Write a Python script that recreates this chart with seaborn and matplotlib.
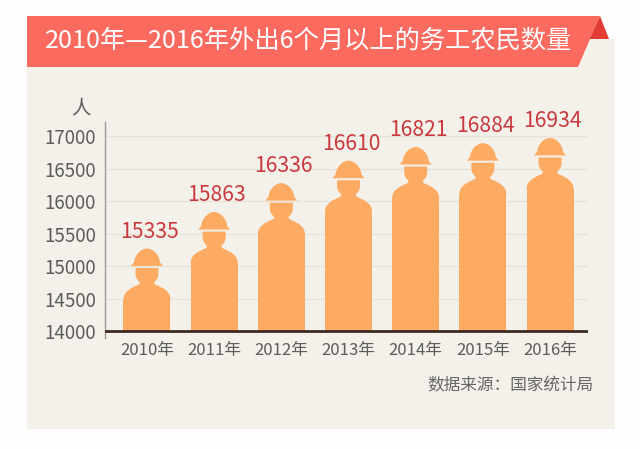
import matplotlib
matplotlib.use("Agg")
import matplotlib.pyplot as plt
import pandas as pd
import seaborn as sns
from matplotlib.patches import PathPatch, Polygon, Rectangle
from matplotlib.path import Path

# Data
years = ["2010年", "2011年", "2012年", "2013年", "2014年", "2015年", "2016年"]
workers = [15335, 15863, 16336, 16610, 16821, 16884, 16934]
# the figures are not drawn quite to their printed value, so read those too
drawn_tops = [15270, 15830, 16275, 16620, 16830, 16890, 16970]
y_ticks = [14000, 14500, 15000, 15500, 16000, 16500, 17000]

title = "2010年—2016年外出6个月以上的务工农民数量"
source = "数据来源：国家统计局"

PANEL = "#f4f1ea"
BANNER = "#fb6a5e"
FOLD = "#e23d33"
ORANGE = "#fdab63"
RED = "#c9393d"
GREY = "#5c5c5c"

# scale of the main axes: pixels of the picture per data unit
PX_X = 67.17
PX_Y = 0.065
SHOULDER = 51  # px from top of hat to where the bar's straight side starts

sns.set_theme(style="white")
plt.rcParams["font.family"] = ["Noto Sans CJK SC", "DejaVu Sans"]

df = pd.DataFrame({"year": years, "top": drawn_tops})
df["height"] = df["top"] - 14000 - SHOULDER / PX_Y

fig = plt.figure(figsize=(6.4, 4.49), dpi=100, facecolor="#fefefe")

# background layer in picture pixels
bg = fig.add_axes([0, 0, 1, 1], zorder=0)
bg.set_xlim(0, 640)
bg.set_ylim(449, 0)
bg.axis("off")
bg.add_patch(Rectangle((27, 39), 588, 390, color=PANEL, lw=0))
bg.add_patch(Polygon([(600, 16), (609, 39), (589, 39)], color=FOLD, lw=0))
bg.add_patch(Polygon([(27, 16), (600, 16), (578, 67), (27, 67)], color=BANNER, lw=0))
bg.text(309, 41, title, color="white", fontsize=18.2, ha="center", va="center")
bg.text(81, 108, "人", color=GREY, fontsize=14, ha="center", va="center")
bg.text(510, 386, source, color="#666666", fontsize=12, ha="center", va="center")

# main chart, left axis runs from y=122 to y=338
ax = fig.add_axes([105 / 640, 1 - 338 / 449, 483 / 640, 216 / 449], zorder=1)
ax.patch.set_alpha(0)
sns.barplot(data=df, x="year", y="height", color=ORANGE, width=0.7, saturation=1,
            bottom=14000, linewidth=0, ax=ax, zorder=3)
ax.set_xlim(-0.625, 6.565)
ax.set_ylim(14000 - 7 / PX_Y, 17000 + 14 / PX_Y)
ax.set_yticks(y_ticks)
ax.set_xlabel("")
ax.set_ylabel("")
ax.tick_params(axis="y", length=0, pad=6.5, labelsize=13.5, labelcolor=GREY)
ax.tick_params(axis="x", length=0, pad=3, labelsize=12, labelcolor=GREY)

for spine in ["top", "right", "bottom"]:
    ax.spines[spine].set_visible(False)
ax.spines["left"].set_color("#9a9a9a")
ax.spines["left"].set_linewidth(1)

for tick in y_ticks[1:]:
    ax.axhline(tick, color="#e7e3da", lw=1, zorder=1)
ax.axhline(14000, color="#3b2a20", lw=2, zorder=4)

# hat and head+shoulder outlines, px from centre / from top of hat
hat = [(Path.MOVETO, (-16, 17.5)), (Path.LINETO, (-13, 14)),
       (Path.CURVE4, (-12, 5)), (Path.CURVE4, (-5, 0)), (Path.CURVE4, (0, 0)),
       (Path.CURVE4, (5, 0)), (Path.CURVE4, (12, 5)), (Path.CURVE4, (13, 14)),
       (Path.LINETO, (16, 17.5)), (Path.CLOSEPOLY, (-16, 17.5))]
right_side = [(Path.LINETO, (23.5, 51)), (Path.CURVE4, (23.5, 44)), (Path.CURVE4, (18, 40)),
              (Path.CURVE4, (8, 36)), (Path.LINETO, (7, 34)),
              (Path.CURVE4, (9, 32)), (Path.CURVE4, (11.5, 30)), (Path.CURVE4, (11.5, 25)),
              (Path.LINETO, (11.5, 19.5))]
left_side = [(Path.LINETO, (-11.5, 19.5)), (Path.LINETO, (-11.5, 25)), (Path.CURVE4, (-11.5, 30)),
             (Path.CURVE4, (-9, 32)), (Path.CURVE4, (-7, 34)), (Path.LINETO, (-8, 36)),
             (Path.CURVE4, (-18, 40)), (Path.CURVE4, (-23.5, 44)), (Path.CURVE4, (-23.5, 51))]
body = [(Path.MOVETO, (-23.5, 51.5)), (Path.LINETO, (23.5, 51.5))] + right_side + left_side
body = body + [(Path.CLOSEPOLY, (-23.5, 51.5))]


def person_part(outline, centre, top):
    codes = [c for c, _ in outline]
    verts = [(centre + x / PX_X, top - y / PX_Y) for _, (x, y) in outline]
    return PathPatch(Path(verts, codes), facecolor=ORANGE, edgecolor="none", zorder=3)


for bar, top, value in zip(ax.patches, drawn_tops, workers):
    centre = bar.get_x() + bar.get_width() / 2
    ax.add_patch(person_part(hat, centre, top))
    ax.add_patch(person_part(body, centre, top))
    ax.annotate(str(value), (centre, top), xytext=(1.8, 12), textcoords="offset points",
                ha="center", va="center", color=RED, fontsize=15.2, zorder=5)

fig.savefig("out.png", dpi=100, facecolor=fig.get_facecolor())
